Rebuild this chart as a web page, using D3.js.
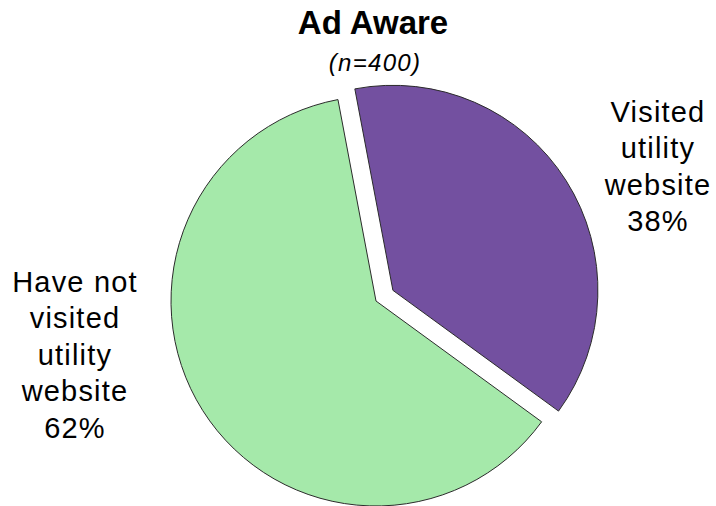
<!DOCTYPE html>
<html>
<head>
<meta charset="utf-8">
<script src="https://cdn.jsdelivr.net/npm/d3@7"></script>
<style>
  html, body { margin: 0; padding: 0; background: #fff; }
  svg { display: block; }
</style>
</head>
<body>
<svg id="chart" width="716" height="506"></svg>
<script>
// Survey split among respondents who were aware of the ad
const categories = ["Visited utility website", "Have not visited utility website"];
const shares = [38, 62];
const labelLines = [
  ["Visited", "utility", "website", "38%"],
  ["Have not", "visited", "utility", "website", "62%"]
];
const colors = ["#7350a0", "#a5e9aa"];
const titleText = "Ad Aware";
const subtitleText = "(n=400)";

const W = 716, H = 506;
const cx = 376, cy = 301, radius = 205;
const explode = [20, 0];
const startDeg = -10.7;
const labelAnchors = [[658, 121.5], [75, 291.5]];
const lineStep = 36.6;

const svg = d3.select("#chart");
const rad = d => d * Math.PI / 180;

const pie = d3.pie()
  .sort(null)
  .value(d => d.value)
  .startAngle(rad(startDeg))
  .endAngle(rad(startDeg) + 2 * Math.PI);

const arc = d3.arc().innerRadius(0).outerRadius(radius);

const data = categories.map((c, i) => ({ name: c, value: shares[i], idx: i }));
const arcs = pie(data);

const g = svg.append("g").attr("transform", `translate(${cx},${cy})`);

g.selectAll("path.slice")
  .data(arcs)
  .join("path")
  .attr("class", "slice")
  .attr("d", arc)
  .attr("fill", d => colors[d.data.idx])
  .attr("stroke", "#2b2b2b")
  .attr("stroke-width", 1)
  .attr("stroke-linejoin", "miter")
  .attr("transform", d => {
    const mid = (d.startAngle + d.endAngle) / 2;
    const off = explode[d.data.idx];
    return `translate(${off * Math.sin(mid)},${-off * Math.cos(mid)})`;
  });

// Title and sample size
svg.append("text")
  .attr("x", 373).attr("y", 34)
  .attr("text-anchor", "middle")
  .attr("font-family", "'Liberation Sans', Arial, sans-serif")
  .attr("font-weight", "bold")
  .attr("font-size", 33)
  .attr("fill", "#000")
  .text(titleText);

svg.append("text")
  .attr("x", 375).attr("y", 71)
  .attr("text-anchor", "middle")
  .attr("font-family", "'Liberation Sans', Arial, sans-serif")
  .attr("font-style", "italic")
  .attr("font-size", 24)
  .attr("letter-spacing", 1.3)
  .attr("fill", "#000")
  .text(subtitleText);

// Category labels
labelLines.forEach((lines, i) => {
  const t = svg.append("text")
    .attr("text-anchor", "middle")
    .attr("font-family", "'Liberation Sans', Arial, sans-serif")
    .attr("font-size", 29)
    .attr("letter-spacing", 1.2)
    .attr("fill", "#000");
  lines.forEach((ln, k) => {
    t.append("tspan")
      .attr("x", labelAnchors[i][0])
      .attr("y", labelAnchors[i][1] + k * lineStep)
      .text(ln);
  });
});
</script>
</body>
</html>
